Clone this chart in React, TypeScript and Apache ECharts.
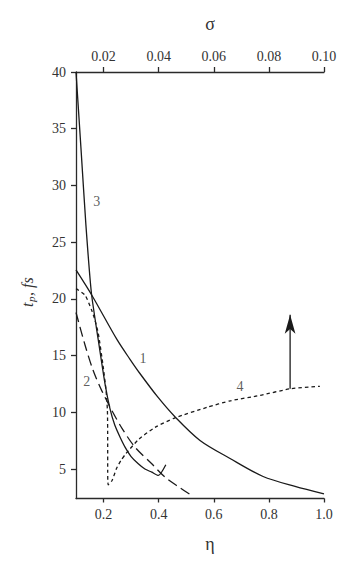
import React, { useEffect, useRef } from "react";
import * as echarts from "echarts";

// Axis ticks
const etaTicks = [0.2, 0.4, 0.6, 0.8, 1.0];
const sigmaTicks = [0.02, 0.04, 0.06, 0.08, 0.1];
const tTicks = [5, 10, 15, 20, 25, 30, 35, 40];

// Curve 1 (solid)
const c1Eta = [0.1, 0.158, 0.249, 0.296, 0.332, 0.395, 0.459, 0.55, 0.659, 0.779, 0.895, 1.0];
const c1T = [22.55, 20.3, 16.4, 14.67, 13.42, 11.4, 9.61, 7.52, 5.93, 4.34, 3.46, 2.8];

// Curve 2 (long dash)
const c2Eta = [0.1, 0.133, 0.162, 0.193, 0.23, 0.267, 0.314, 0.375, 0.423, 0.47, 0.524];
const c2T = [18.8, 15.91, 13.7, 11.93, 10.17, 8.58, 6.93, 5.46, 4.28, 3.46, 2.6];

// Curve 3 (solid)
const c3Eta = [0.1, 0.118, 0.136, 0.156, 0.181, 0.205, 0.223, 0.241, 0.26, 0.278, 0.3, 0.326, 0.35, 0.375, 0.399, 0.426];
const c3T = [40, 33.29, 26.5, 20.49, 16.35, 12.55, 10.35, 8.85, 7.8, 6.93, 6.1, 5.46, 5.0, 4.72, 4.43, 5.38];

// Curve 4 (short dash)
const c4Eta = [0.1, 0.133, 0.157, 0.169, 0.181, 0.198, 0.209, 0.214, 0.215, 0.215, 0.217, 0.231, 0.247, 0.263, 0.281, 0.329, 0.387, 0.459, 0.575, 0.659, 0.768, 0.877, 0.985];
const c4T = [20.9, 20.32, 18.99, 18.11, 16.94, 14.14, 11.93, 10.17, 7.52, 4.87, 3.6, 3.99, 5.05, 5.75, 6.35, 7.65, 8.67, 9.51, 10.43, 11.01, 11.49, 12.07, 12.29];

// Arrow (from curve 4 upward)
const arrowEta = [0.877, 0.877];
const arrowT = [12.07, 18.6];

// Curve labels
const labelText = ["1", "2", "3", "4"];
const labelEta = [0.343, 0.139, 0.175, 0.695];
const labelT = [14.76, 12.73, 28.55, 12.29];

const zip = (a: number[], b: number[]) => a.map((v, i) => [v, b[i]]);

const SERIF = "Liberation Serif";
const AX = "#2a2a2a";

export default function App() {
  const ref = useRef<HTMLDivElement>(null);
  useEffect(() => {
    if (!ref.current) return;
    const chart = echarts.init(ref.current, null, { renderer: "svg" });
    const lineBase = { type: "line", showSymbol: false, symbol: "none", silent: true, z: 3 };
    const lbl = { color: "#333", fontFamily: SERIF, fontSize: 14 };
    chart.setOption({
      animation: false,
      textStyle: { fontFamily: SERIF },
      grid: { left: 76, top: 72, right: 26, bottom: 71.5, containLabel: false },
      xAxis: [
        {
          type: "value",
          position: "bottom",
          min: 0.1,
          max: 1.0,
          axisLine: { show: true, onZero: false, lineStyle: { color: AX, width: 1.3 } },
          axisTick: { show: true, customValues: etaTicks, length: 4, lineStyle: { color: AX, width: 1.3 } },
          axisLabel: { ...lbl, customValues: etaTicks, formatter: (v: number) => v.toFixed(1), margin: 9 },
          splitLine: { show: false },
        },
        {
          type: "value",
          position: "top",
          min: 0.01,
          max: 0.1,
          axisLine: { show: true, onZero: false, lineStyle: { color: AX, width: 1.3 } },
          axisTick: { show: true, customValues: sigmaTicks, length: 5, lineStyle: { color: AX, width: 1.3 } },
          axisLabel: { ...lbl, customValues: sigmaTicks, formatter: (v: number) => v.toFixed(2), margin: 9 },
          splitLine: { show: false },
        },
      ],
      yAxis: {
        type: "value",
        min: 2.4,
        max: 40,
        axisLine: { show: true, onZero: false, lineStyle: { color: AX, width: 1.3 } },
        axisTick: { show: true, customValues: tTicks, length: 5, lineStyle: { color: AX, width: 1.3 } },
        axisLabel: { ...lbl, customValues: tTicks, margin: 10 },
        splitLine: { show: false },
      },
      series: [
        { ...lineBase, name: "1", data: zip(c1Eta, c1T), smooth: 0.3, lineStyle: { color: "#1a1a1a", width: 1.3 } },
        { ...lineBase, name: "2", data: zip(c2Eta, c2T), smooth: 0.3, lineStyle: { color: "#1a1a1a", width: 1.3, type: [10, 5] } },
        { ...lineBase, name: "3", data: zip(c3Eta, c3T), smooth: 0.2, lineStyle: { color: "#1a1a1a", width: 1.3 } },
        { ...lineBase, name: "4", data: zip(c4Eta, c4T), smooth: 0.2, lineStyle: { color: "#1a1a1a", width: 1.3, type: [3.5, 3] } },
        {
          type: "line",
          name: "arrow",
          silent: true,
          data: [
            { value: [arrowEta[0], arrowT[0]], symbol: "none" },
            { value: [arrowEta[1], arrowT[1]], symbol: "arrow", symbolSize: [8, 19] },
          ],
          showSymbol: true,
          lineStyle: { color: "#1a1a1a", width: 1.3 },
          itemStyle: { color: "#1a1a1a" },
        },
        {
          type: "scatter",
          name: "labels",
          silent: true,
          symbolSize: 1,
          itemStyle: { color: "rgba(0,0,0,0)" },
          data: labelText.map((s, i) => ({ value: [labelEta[i], labelT[i]], name: s })),
          label: {
            show: true,
            position: "inside",
            formatter: (p: any) => p.name,
            ...lbl,
          },
        },
      ],
      graphic: [
        { type: "text", x: 210, y: 24, style: { text: "σ", fontFamily: SERIF, fontSize: 18, fill: "#333", align: "center", verticalAlign: "middle" } },
        { type: "text", x: 210, y: 544, style: { text: "η", fontFamily: SERIF, fontSize: 18, fill: "#333", align: "center", verticalAlign: "middle" } },
        {
          type: "group",
          x: 27,
          y: 291,
          rotation: Math.PI / 2,
          children: [
            { type: "text", x: -16, y: 0, style: { text: "t", fontFamily: SERIF, fontStyle: "italic", fontSize: 16, fill: "#333", align: "left", verticalAlign: "middle" } },
            { type: "text", x: -11, y: 4, style: { text: "p", fontFamily: SERIF, fontStyle: "italic", fontSize: 11, fill: "#333", align: "left", verticalAlign: "middle" } },
            { type: "text", x: -5, y: 0, style: { text: ", fs", fontFamily: SERIF, fontStyle: "italic", fontSize: 16, fill: "#333", align: "left", verticalAlign: "middle" } },
          ],
        },
      ],
    });
    return () => chart.dispose();
  }, []);
  return <div ref={ref} style={{ width: 350, height: 570, position: "absolute", left: 0, top: 0 }} />;
}
